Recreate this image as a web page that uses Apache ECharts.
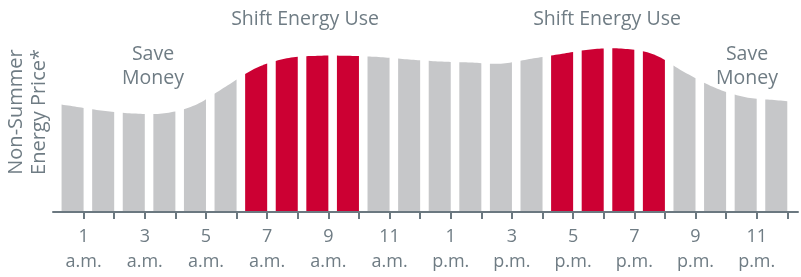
<!DOCTYPE html>
<html>
<head>
<meta charset="utf-8">
<script src="https://cdn.jsdelivr.net/npm/echarts@6/dist/echarts.min.js"></script>
<style>
html,body{margin:0;padding:0;background:#fff;}
#chart{width:801px;height:277px;}
</style>
</head>
<body>
<div id="chart"></div>
<script>
// Hour-ending of each bar (1 = midnight–1 a.m. ... 24 = 11 p.m.–midnight)
var hours = [1,2,3,4,5,6,7,8,9,10,11,12,13,14,15,16,17,18,19,20,21,22,23,24];
// Relative non-summer energy price for each hour (arbitrary units)
var prices = [105.8,101.2,98.5,98.7,106.8,125.3,144,153.7,156.2,156.2,155,152.5,150.5,149.5,148.3,153.3,158.2,162.8,163.3,157.5,139.8,124.2,114.7,111.8];
// Peak ("Shift Energy Use") hours, by hour-ending
var peakHours = [7,8,9,10,17,18,19,20];
// Axis tick marks and labels
var tickHours = [1,2,3,4,5,6,7,8,9,10,11,12,13,14,15,16,17,18,19,20,21,22,23,24];
var labelHours = [1,3,5,7,9,11,13,15,17,19,21,23];
var labelTexts = ['1\na.m.','3\na.m.','5\na.m.','7\na.m.','9\na.m.','11\na.m.','1\np.m.','3\np.m.','5\np.m.','7\np.m.','9\np.m.','11\np.m.'];
// Annotations
var notes = ['Save\nMoney','Shift Energy Use','Shift Energy Use','Save\nMoney'];

var FONT = '"Open Sans", "Noto Sans", sans-serif';
var TEXT = '#6f7c84';
var AXIS = '#6b7880';
var GRAY = '#c6c7c9';
var RED = '#cc0033';
var BAR_W = 0.72; // fraction of hour slot covered by bar (bar ends at hour mark)

var centers = hours.map(function(h){ return h - BAR_W/2; });
function tangent(i){
  var n = centers.length;
  if (i === 0) return (prices[1]-prices[0])/(centers[1]-centers[0]);
  if (i === n-1) return (prices[n-1]-prices[n-2])/(centers[n-1]-centers[n-2]);
  return (prices[i+1]-prices[i-1])/(centers[i+1]-centers[i-1]);
}
function priceAt(x){
  var n = centers.length;
  if (x <= centers[0]) return prices[0] + tangent(0)*(x-centers[0]);
  if (x >= centers[n-1]) return prices[n-1] + tangent(n-1)*(x-centers[n-1]);
  var i = 0;
  while (i < n-2 && x > centers[i+1]) i++;
  var x0 = centers[i], x1 = centers[i+1], h = x1-x0, t = (x-x0)/h;
  var p0 = prices[i], p1 = prices[i+1], m0 = tangent(i)*h, m1 = tangent(i+1)*h;
  var t2 = t*t, t3 = t2*t;
  return (2*t3-3*t2+1)*p0 + (t3-2*t2+t)*m0 + (-2*t3+3*t2)*p1 + (t3-t2)*m1;
}

var data = hours.map(function(h, i){ return [h, prices[i]]; });

var chart = echarts.init(document.getElementById('chart'));
chart.setOption({
  animation: false,
  grid: {left: 53, right: 3, top: 12, bottom: 65, outerBoundsMode: 'none', containLabel: false},
  xAxis: {
    type: 'value', min: 0, max: 24.35, z: 5,
    axisLine: {show: true, lineStyle: {color: AXIS, width: 2}},
    axisTick: {show: true, customValues: tickHours, length: 7, lineStyle: {color: AXIS, width: 2}},
    axisLabel: {
      customValues: labelHours,
      formatter: function(v){ return labelTexts[labelHours.indexOf(v)]; },
      fontFamily: FONT, fontSize: 18, lineHeight: 25, color: TEXT, margin: 12
    },
    splitLine: {show: false}
  },
  yAxis: {
    type: 'value', min: 0, max: 200,
    axisLine: {show: false}, axisTick: {show: false}, axisLabel: {show: false}, splitLine: {show: false},
    name: 'Non-Summer\nEnergy Price*', nameLocation: 'middle', nameGap: 2,
    nameTextStyle: {fontFamily: FONT, fontSize: 20, lineHeight: 23, color: TEXT}
  },
  series: [{
    type: 'custom',
    data: data,
    encode: {x: 0, y: 1},
    renderItem: function(params, api){
      var h = api.value(0);
      var xL = h - BAR_W, xR = h;
      var pts = [api.coord([xL, 0])];
      var N = 10;
      for (var k = 0; k <= N; k++) {
        var x = xL + (xR - xL) * k / N;
        pts.push(api.coord([x, priceAt(x)]));
      }
      pts.push(api.coord([xR, 0]));
      return {
        type: 'polygon',
        shape: {points: pts},
        style: {fill: peakHours.indexOf(h) >= 0 ? RED : GRAY}
      };
    }
  }],
  graphic: [
    {type: 'text', x: 153, y: 66, style: {text: notes[0], font: '19.5px ' + FONT, lineHeight: 24, fill: TEXT, align: 'center', verticalAlign: 'middle'}},
    {type: 'text', x: 305, y: 19, style: {text: notes[1], font: '19.5px ' + FONT, fill: TEXT, align: 'center', verticalAlign: 'middle'}},
    {type: 'text', x: 607, y: 19, style: {text: notes[2], font: '19.5px ' + FONT, fill: TEXT, align: 'center', verticalAlign: 'middle'}},
    {type: 'text', x: 747, y: 66, style: {text: notes[3], font: '19.5px ' + FONT, lineHeight: 24, fill: TEXT, align: 'center', verticalAlign: 'middle'}}
  ]
});
</script>
</body>
</html>
